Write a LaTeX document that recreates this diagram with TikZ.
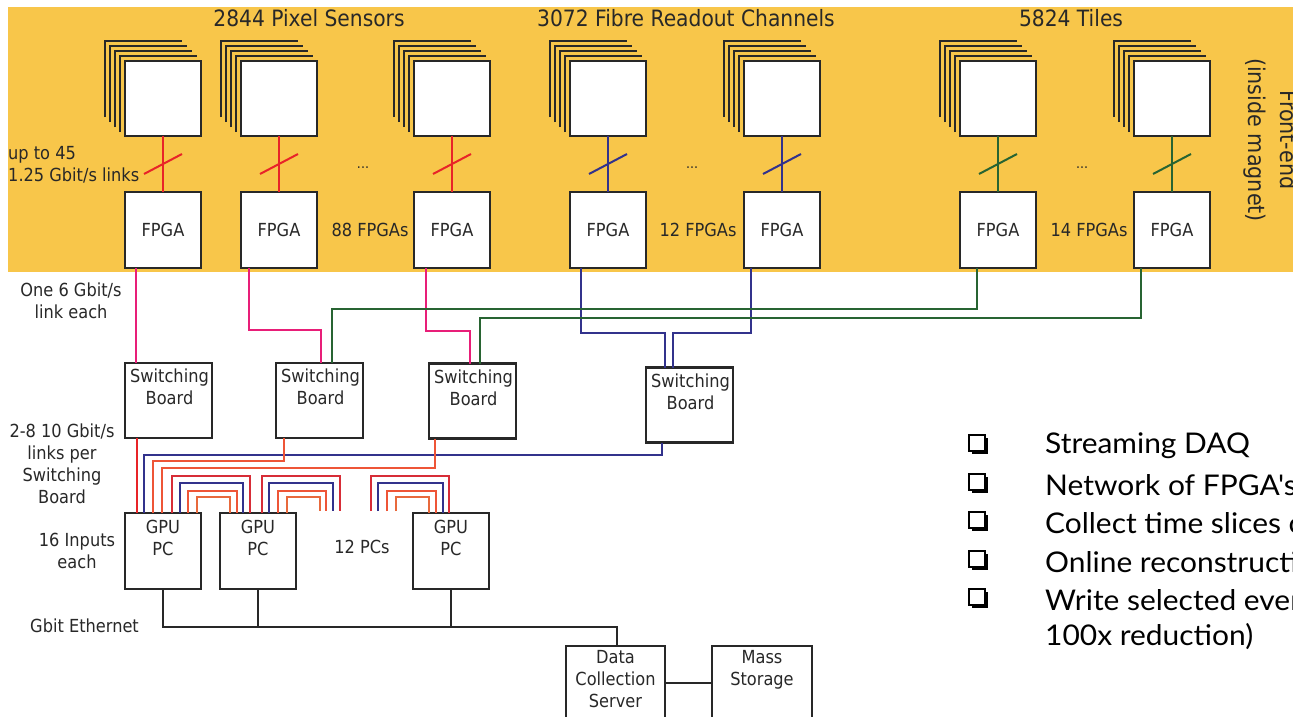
\documentclass[tikz,border=0pt]{standalone}
\usepackage{fontspec}
\setmainfont{DejaVu Sans}[FakeStretch=0.9]
\newfontfamily\gillfont{Lato}[FakeStretch=1.05]
\usetikzlibrary{calc,shadows}
\definecolor{bgyellow}{RGB}{248,198,74}
\definecolor{boxgray}{RGB}{40,40,40}
\definecolor{txtgray}{RGB}{40,40,40}
\definecolor{redl}{RGB}{232,36,40}
\definecolor{archred}{RGB}{215,45,55}
\definecolor{pinkl}{RGB}{232,30,120}
\definecolor{bluel}{RGB}{50,50,140}
\definecolor{greenl}{RGB}{40,100,50}
\definecolor{orangel}{RGB}{238,85,55}
\definecolor{orangem}{RGB}{232,105,60}
\newcommand\myfs[2]{\fontsize{#1}{#2}\selectfont}
\begin{document}
\begin{tikzpicture}[x=1pt,y=-1pt,
  every node/.style={text=txtgray},
  box/.style={draw=boxgray, line width=2.2pt, fill=white, inner sep=0pt, outer sep=0pt,
    minimum width=76pt, minimum height=76pt, font=\myfs{18}{22}},
  sensor/.style={box, minimum height=75pt},
  sbox/.style={box, minimum width=87pt, minimum height=75pt},
  stackline/.style={draw=boxgray, line width=2.4pt},
  link/.style={line width=2pt},
  lbl/.style={font=\myfs{18}{22}, inner sep=0pt, align=center},
  title/.style={font=\myfs{22.5}{27}, inner sep=0pt},
  bullettext/.style={font=\gillfont\myfs{28.5}{32}, inner sep=0pt, anchor=west, text=black},
  bulletbox/.style={draw=black, line width=1.2pt, fill=white, minimum size=16pt, inner sep=0pt,
    drop shadow={shadow xshift=3pt, shadow yshift=-3pt, fill=black, opacity=1}},
  eth/.style={draw=boxgray, line width=2pt}
]
\useasboundingbox (0,0) rectangle (1293,717);
\clip (0,0) rectangle (1293,717);
\fill[white] (0,0) rectangle (1293,717);
\fill[bgyellow] (8,7) rectangle (1293,272);

% titles
\node[title] (t1) at (309,18) {2844 Pixel Sensors};
\node[title] (t2) at (686,18) {3072 Fibre Readout Channels};
\node[title] (t3) at (1071,18) {5824 Tiles};
\node[font=\myfs{23}{27}, rotate=-90, inner sep=0pt] (fe1) at (1289,140) {Front-end};
\node[font=\myfs{23}{27}, rotate=-90, inner sep=0pt] (fe2) at (1255,140) {(inside magnet)};

% sensors, FPGAs and links
\foreach \i/\L/\c in {1/125/redl,2/241/redl,3/414/redl,4/570/bluel,5/744/bluel,6/960/greenl,7/1134/greenl}{
  \node[sensor] (s\i) at (\L+38,98.5) {};
  \foreach \k in {1,...,4}{
    \draw[stackline] ($(s\i.north west)+(-5*\k,76-5*\k)$) -- ++(0,-76) -- ++(77,0);
  }
  \node[box] (f\i) at (\L+38,230) {FPGA};
  \draw[link,draw=\c] (s\i.south) -- (f\i.north);
  \draw[link,draw=\c] ($(s\i.south)!0.5!(f\i.north)+(-19,10)$) -- ++(38,-20);
}

\node[lbl, align=left, anchor=west] (up45) at (8,165) {up to 45\\1.25 Gbit/s links};
\node[font=\myfs{14}{16}, inner sep=0pt] (d1) at (363,168) {...};
\node[font=\myfs{14}{16}, inner sep=0pt] (d2) at (692,168) {...};
\node[font=\myfs{14}{16}, inner sep=0pt] (d3) at (1082,168) {...};
\node[lbl] (n88) at (370,230) {88 FPGAs};
\node[lbl] (n12) at (698,230) {12 FPGAs};
\node[lbl] (n14) at (1089,230) {14 FPGAs};

% switching boards
\node[sbox] (sb1) at (168.5,400.5) {};
\node[sbox] (sb2) at (319.5,400.5) {};
\node[sbox] (sb3) at (472.5,401) {};
\node[sbox] (sb4) at (689.5,405) {};
\foreach \b in {1,2,3,4}{
  \node[lbl] (sb\b t) at ($(sb\b.north)+(1,24)$) {Switching\\Board};
}

% FPGA -> switching boards
\draw[link,pinkl] ($(f1.south west)+(11,0)$) coordinate (f1o) -- (f1o |- sb1.north);
\draw[link,pinkl] ($(f2.south west)+(8,0)$) -- ++(0,62) -| ($(sb2.north west)+(45,0)$);
\draw[link,pinkl] ($(f3.south west)+(12,0)$) -- ++(0,63) -| ($(sb3.north west)+(41,0)$);
\draw[link,bluel] ($(f4.south west)+(11,0)$) -- ++(0,65) -| ($(sb4.north west)+(19,0)$);
\draw[link,bluel] ($(f5.south west)+(7,0)$) -- ++(0,65) -| ($(sb4.north west)+(27,0)$);
\draw[link,greenl] ($(f6.south west)+(17,0)$) -- ++(0,41) -| ($(sb2.north west)+(56,0)$);
\draw[link,greenl] ($(f7.south west)+(7,0)$) -- ++(0,50) -| ($(sb3.north west)+(51,0)$);

\node[lbl] (one6) at (71,301) {One 6 Gbit/s\\link each};
\node[lbl] (l28) at (62,464) {2-8 10 Gbit/s\\links per\\Switching\\Board};

% GPU PCs
\node[box] (g1) at (163,551) {};
\node[box] (g2) at (258,551) {};
\node[box] (g3) at (451,551) {};
\foreach \g in {1,2,3}{
  \node[lbl] (g\g t) at ($(g\g.north)+(0,24.5)$) {GPU\\PC};
}
\node[lbl] (in16) at (77,551) {16 Inputs\\each};
\node[lbl] (pcs12) at (362,547) {12 PCs};

% switching boards -> GPU 1
\draw[link,redl] ($(sb1.south west)+(12,0)$) coordinate (sb1o) -- (sb1o |- g1.north);
\draw[link,bluel] ($(sb4.south west)+(16,0)$) -- ++(0,12) -| ($(g1.north west)+(19,0)$);
\draw[link,orangel] ($(sb2.south west)+(8,0)$) -- ++(0,23) -| ($(g1.north west)+(28,0)$);
\draw[link,orangel] ($(sb3.south west)+(6,0)$) -- ++(0,29) -| ($(g1.north west)+(37,0)$);

% arches GPU1 -> GPU2
\draw[link,archred] ($(g1.north west)+(47,0)$) -- ++(0,-37) -| ($(g2.north west)+(30,0)$);
\draw[link,bluel] ($(g1.north west)+(55,0)$) -- ++(0,-30) -| ($(g2.north west)+(23,0)$);
\draw[link,orangel] ($(g1.north west)+(63,0)$) -- ++(0,-22) -| ($(g2.north west)+(17,0)$);
\draw[link,orangem] ($(g1.north west)+(72,0)$) -- ++(0,-16) -| ($(g2.north west)+(10,0)$);
% GPU2 -> free ends
\coordinate (e1) at ($(g2.north west)+(120,-2)$);
\coordinate (e2) at ($(g2.north west)+(113,-2)$);
\coordinate (e3) at ($(g2.north west)+(106,-2)$);
\coordinate (e4) at ($(g2.north west)+(100,-2)$);
\draw[link,archred] ($(g2.north west)+(42,0)$) -- ++(0,-37) -| (e1);
\draw[link,bluel] ($(g2.north west)+(49,0)$) -- ++(0,-30) -| (e2);
\draw[link,orangel] ($(g2.north west)+(58,0)$) -- ++(0,-22) -| (e3);
\draw[link,orangem] ($(g2.north west)+(67,0)$) -- ++(0,-16) -| (e4);
% free ends -> GPU3
\coordinate (h1) at ($(g3.north west)+(-42,-2)$);
\coordinate (h2) at ($(g3.north west)+(-35,-2)$);
\coordinate (h3) at ($(g3.north west)+(-26,-2)$);
\coordinate (h4) at ($(g3.north west)+(-17,-2)$);
\draw[link,archred] (h1) |- ($(g3.north west)+(36,-37)$) -- ($(g3.north west)+(36,0)$);
\draw[link,bluel] (h2) |- ($(g3.north west)+(30,-30)$) -- ($(g3.north west)+(30,0)$);
\draw[link,orangel] (h3) |- ($(g3.north west)+(23,-22)$) -- ($(g3.north west)+(23,0)$);
\draw[link,orangem] (h4) |- ($(g3.north west)+(16,-16)$) -- ($(g3.north west)+(16,0)$);

% storage
\node[box, minimum width=99pt, minimum height=74pt] (dcs) at (615.5,683) {};
\node[box, minimum width=100pt, minimum height=74pt] (ms) at (762,683) {};
\node[lbl] (dcst) at ($(dcs.north)+(0,33)$) {Data\\Collection\\Server};
\node[lbl] (mst) at ($(ms.north)+(0,24)$) {Mass\\Storage};
\draw[eth] (g1.south) -- ++(0,38) coordinate (bus0) -| ($(dcs.north)+(1.5,0)$);
\draw[eth] (g2.south) -- (g2.south |- bus0);
\draw[eth] (g3.south) -- (g3.south |- bus0);
\draw[eth] (dcs) -- (ms);
\node[lbl, anchor=west] (gbe) at (30,626) {Gbit Ethernet};

% bullet list
\foreach \y/\t [count=\n] in {446/Streaming DAQ,485/Network of FPGA's,523/Collect time slices of,562/Online reconstruction,600/Write selected events}{
  \node[bulletbox] (bb\n) at (977,\y-3) {};
  \node[bullettext] (bt\n) at (1045,\y) {\t};
}
\node[bullettext] (bt6) at (1045,637) {100x reduction)};
\end{tikzpicture}
\end{document}
